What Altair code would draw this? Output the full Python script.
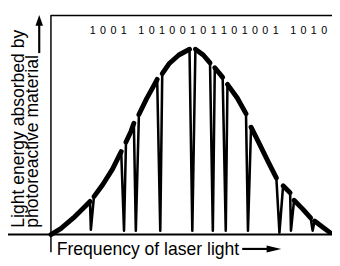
import altair as alt
import pandas as pd

# ---- data (frequency 0-100, absorbed energy 0-100) ----
# envelope pieces between the burnt holes
envelope_freq = [
    [0.0, 3.5, 8.0, 11.5, 13.9],
    [15.3, 18.4, 21.9, 25.0],
    [26.7, 28.5, 29.5],
    [31.3, 34.0, 36.5, 37.8],
    [39.6, 42.0, 45.5, 49.3],
    [51.4, 54.2, 56.6],
    [58.3, 61.1],
    [62.8, 66.3, 69.4],
    [71.2, 74.0, 77.4, 80.2],
    [82.6, 85.1],
    [86.5, 89.6, 92.4],
    [93.8, 96.5, 99.3],
]
envelope_energy = [
    [0.0, 2.7, 7.6, 12.0, 15.1],
    [17.3, 22.7, 29.8, 37.8],
    [42.2, 47.1, 50.7],
    [54.7, 61.8, 67.6, 70.7],
    [73.3, 77.8, 81.8, 84.4],
    [84.4, 81.8, 78.2],
    [76.0, 71.6],
    [68.4, 62.2, 55.1],
    [48.9, 41.8, 32.9, 25.8],
    [22.2, 19.1],
    [15.6, 11.6, 7.6],
    [6.2, 3.6, 0.9],
]
# spectral holes: frequency of the hole bottom and its floor level
hole_freq = [14.2, 26.0, 30.2, 38.9, 50.3, 57.6, 62.2, 70.1, 81.3, 85.4, 93.1]
hole_floor = [2.2, 1.8, 1.8, 1.8, 1.8, 1.8, 1.8, 1.8, 0.9, 1.8, 1.8]

# stored bit pattern printed above the curve
bit_groups = ["1001", "10100101101001", "1010"]

x_title = "Frequency of laser light"
y_title_1 = "Light energy absorbed by"
y_title_2 = "photoreactive material"

FONT = "Liberation Sans"

# ---- tables ----
env_rows = []
for s, (fs, es) in enumerate(zip(envelope_freq, envelope_energy)):
    for k, (f, e) in enumerate(zip(fs, es)):
        env_rows.append({"seg": s, "ord": k, "freq": f, "energy": e})
env_df = pd.DataFrame(env_rows)

hole_rows = []
for h in range(len(hole_freq)):
    pts = [
        (envelope_freq[h][-1], envelope_energy[h][-1]),
        (hole_freq[h], hole_floor[h]),
        (envelope_freq[h + 1][0], envelope_energy[h + 1][0]),
    ]
    for k, (f, e) in enumerate(pts):
        hole_rows.append({"hole": h, "ord": k, "freq": f, "energy": e})
hole_df = pd.DataFrame(hole_rows)

bit_rows = []
slot = 0.0
for g, grp in enumerate(bit_groups):
    if g > 0:
        slot += 0.7
    for ch in grp:
        bit_rows.append({"bit": ch, "slot": slot})
        slot += 1.0
bits_df = pd.DataFrame(bit_rows)
max_slot = bits_df["slot"].max()

one = pd.DataFrame({"k": [0]})

xs = alt.Scale(domain=[0, 100], nice=False, zero=False)
ys = alt.Scale(domain=[0, 100], nice=False, zero=False)

# ---- frame ----
top_rule = alt.Chart(one).mark_rule(color="black", strokeWidth=1.3).encode(
    x=alt.value(0), x2=alt.value(288), y=alt.value(0.5))
left_rule = alt.Chart(one).mark_rule(color="black", strokeWidth=1.5).encode(
    x=alt.value(0), y=alt.value(0), y2=alt.value(243))
bottom_rule = alt.Chart(one).mark_rule(color="black", strokeWidth=2).encode(
    x=alt.value(-44), x2=alt.value(288), y=alt.value(225))

# ---- curve ----
envelope = alt.Chart(env_df).mark_line(
    color="black", strokeWidth=5, strokeCap="round", strokeJoin="round"
).encode(
    x=alt.X("freq:Q", scale=xs, axis=None),
    y=alt.Y("energy:Q", scale=ys, axis=None),
    detail="seg:N",
    order="ord:Q",
)
holes = alt.Chart(hole_df).mark_line(
    color="black", strokeWidth=2.6, strokeCap="round", strokeJoin="round"
).encode(
    x=alt.X("freq:Q", scale=xs, axis=None),
    y=alt.Y("energy:Q", scale=ys, axis=None),
    detail="hole:N",
    order="ord:Q",
)

# ---- bits ----
bits = alt.Chart(bits_df).mark_text(
    font=FONT, fontSize=11, baseline="middle", align="center", color="black"
).encode(
    x=alt.X("slot:Q", scale=alt.Scale(domain=[0, max_slot], range=[42.8, 280], nice=False, zero=False), axis=None),
    y=alt.value(16),
    text="bit:N",
)

# ---- titles and arrows ----
ytitle1 = alt.Chart(one).mark_text(
    font=FONT, fontSize=18, angle=270, align="left", baseline="middle", color="black", text=y_title_1
).encode(x=alt.value(-32.5), y=alt.value(218))
ytitle2 = alt.Chart(one).mark_text(
    font=FONT, fontSize=18, angle=270, align="left", baseline="middle", color="black", text=y_title_2
).encode(x=alt.value(-18), y=alt.value(218))
yshaft = alt.Chart(one).mark_rule(color="black", strokeWidth=2.2).encode(
    x=alt.value(-12), y=alt.value(9), y2=alt.value(39))
yhead = alt.Chart(one).mark_point(
    shape="M-0.7,1L0,-1L0.7,1Z", filled=True, color="black", opacity=1, size=121
).encode(x=alt.value(-12), y=alt.value(5.5))

xtitle = alt.Chart(one).mark_text(
    font=FONT, fontSize=18, align="left", baseline="alphabetic", color="black", text=x_title
).encode(x=alt.value(6), y=alt.value(246))
xshaft = alt.Chart(one).mark_rule(color="black", strokeWidth=2.2).encode(
    x=alt.value(196), x2=alt.value(224), y=alt.value(239.7))
xhead = alt.Chart(one).mark_point(
    shape="M-1,-0.47L1,0L-1,0.47Z", filled=True, color="black", opacity=1, size=225
).encode(x=alt.value(228.5), y=alt.value(239.7))

chart = alt.layer(
    top_rule, left_rule, bottom_rule, holes, envelope, bits,
    ytitle1, ytitle2, yshaft, yhead, xtitle, xshaft, xhead,
).resolve_scale(x="independent").properties(
    width=288,
    height=225,
    padding={"left": 44, "top": 4, "right": 0, "bottom": 29},
    autosize=alt.AutoSizeParams(type="none"),
).configure_view(stroke=None)

chart.save("out.html", embed_options={"renderer": "svg", "actions": False})
